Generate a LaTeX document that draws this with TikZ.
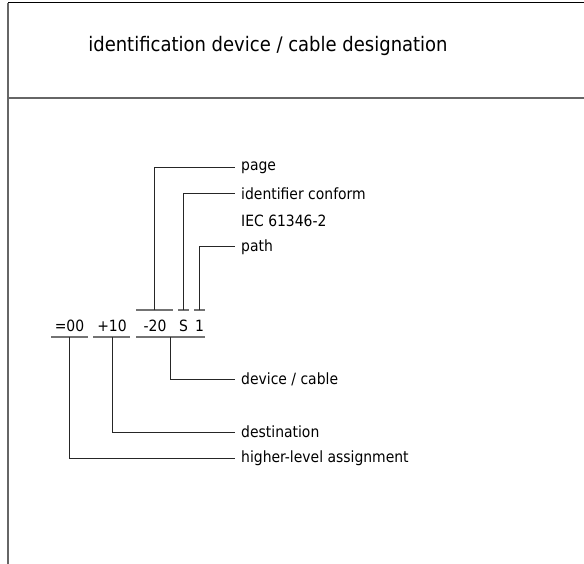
\documentclass[tikz,border=0pt]{standalone}
\usepackage{fontspec}
\setmainfont{DejaVu Sans Condensed}
\usetikzlibrary{calc}
\tikzset{
    lbl/.style={anchor=west, inner xsep=6pt, inner ysep=0pt, font=\fontsize{15.5}{18}\selectfont},
    code/.style={inner sep=0pt, font=\fontsize{15.5}{18}\selectfont},
    lead/.style={line width=1pt, black!85},
    bar/.style={line width=1.3pt, black!55},
    frame/.style={line width=1.5pt, black!60}
}

\begin{document}
\begin{tikzpicture}[x=1pt,y=-1pt]
        \useasboundingbox (0,0) rectangle (584,564);

        % frame and title
        \draw[frame] (8,564) -- (8,3);
        \draw[line width=1pt] (8,3) -- (584,3);
        \draw[frame] (8,98) -- (584,98);
        \draw (268,46) node[font=\fontsize{20}{24}\selectfont](title){identification device / cable designation};

        % designation
        \draw (69.5,326) node[code](eq){=00};
        \draw (112,326) node[code](plus){+10};
        \draw (155,326) node[code](minus){-20};
        \draw (183.5,326) node[code](kind){S};
        \draw (199.5,326) node[code](num){1};

        \draw[bar] (136,310) -- (173,310);
        \draw[bar] (178,310) -- (189,310);
        \draw[bar] (194,310) -- (205,310);
        \draw[bar] (51,337) -- (88,337);
        \draw[bar] (93,337) -- (130,337);
        \draw[bar] (136,337) -- (205,337);

        \coordinate (tpage) at (154,310);
        \coordinate (tkind) at (183,310);
        \coordinate (tpath) at (199,310);
        \coordinate (bdev) at (170,337);
        \coordinate (bdest) at (112,337);
        \coordinate (bhigh) at (69,337);

        % labels
        \draw (235,168) node[lbl](page){page};
        \draw (235,194) node[lbl](ident){identifier conform};
        \draw (235,221) node[lbl](iec){IEC 61346-2};
        \draw (235,247) node[lbl](path){path};
        \draw (235,379) node[lbl](dev){device / cable};
        \draw (235,432) node[lbl](dest){destination};
        \draw (235,458) node[lbl](high){higher-level assignment};

        \draw[lead] (tpage) |- (page);
        \draw[lead] (tkind) |- (ident);
        \draw[lead] (tpath) |- (path);
        \draw[lead] (bdev) |- (dev);
        \draw[lead] (bdest) |- (dest);
        \draw[lead] (bhigh) |- (high);
    \end{tikzpicture}
\end{document}
